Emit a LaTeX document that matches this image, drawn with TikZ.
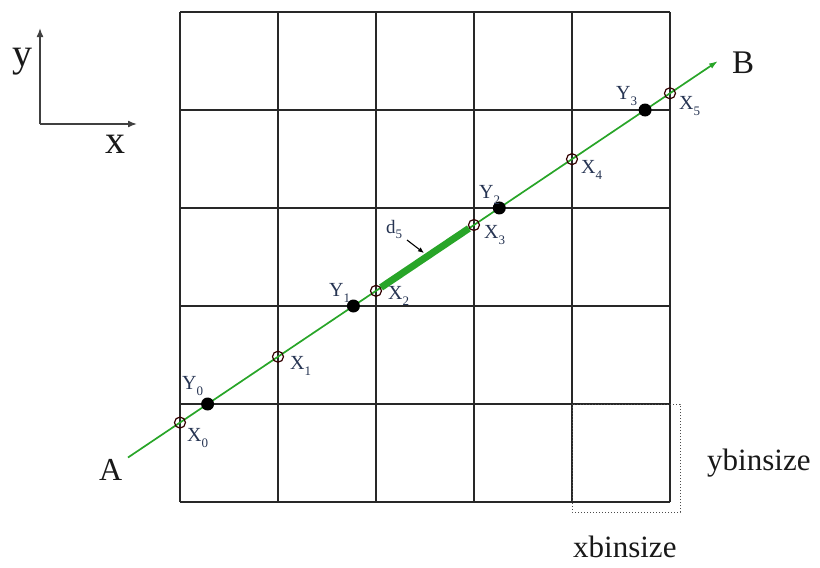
\documentclass[tikz,border=0pt]{standalone}
\usepackage{fontspec}
\setmainfont{Liberation Serif}
\usetikzlibrary{arrows.meta}
\definecolor{lblue}{RGB}{38,52,82}
\definecolor{lgreen}{RGB}{40,165,40}
\definecolor{gridc}{RGB}{40,40,40}
\newcommand{\lab}[2]{#1\raisebox{-0.3em}{\fontsize{13}{13}\selectfont #2}}
\begin{document}
\begin{tikzpicture}[x=1pt,y=-1pt,
  gridline/.style={gridc, line width=1.2},
  opendot/.style={circle, draw=black!80!red, line width=1.2, minimum size=11, inner sep=0},
  fulldot/.style={circle, fill=black, minimum size=13, inner sep=0},
  ptlabel/.style={anchor=base west, inner sep=0, text=lblue, font=\fontsize{20}{20}\selectfont},
  biglabel/.style={anchor=base west, inner sep=0, text=black!90, font=\fontsize{32}{32}\selectfont},
  axis/.style={black!75, line width=1.5, -{Latex[length=9pt,width=7pt]}}]
\useasboundingbox (0,0) rectangle (820,568);
% grid
\foreach \i in {0,...,5} {
  \draw[gridline] ({180+98*\i},12) -- ({180+98*\i},502);
  \draw[gridline] (180,{12+98*\i}) -- (670,{12+98*\i});
}
% bin size dotted box
\draw[black!70, dotted, line width=1] (572,404) rectangle (680,512);
% axes
\coordinate (o) at (40,124);
\coordinate (ay) at (40,28);
\coordinate (ax) at (137,124);
\draw[axis] (o) -- (ay);
\draw[axis] (o) -- (ax);
\node[biglabel, font=\fontsize{40}{40}\selectfont] (ylab) at (12,66) {y};
\node[biglabel, font=\fontsize{40}{40}\selectfont] (xlab) at (105,153) {x};
% main line
\coordinate (A0) at (128,457.5);
\coordinate (B0) at (718,61);
\draw[lgreen, line width=1.7, -{Latex[length=9pt,width=6pt]}] (A0) -- (B0);
\path (A0) -- (B0)
  node[opendot, pos=0.0881] (x0) {}
  node[opendot, pos=0.2542] (x1) {}
  node[opendot, pos=0.4203] (x2) {}
  node[opendot, pos=0.5864] (x3) {}
  node[opendot, pos=0.7525] (x4) {}
  node[opendot, pos=0.9186] (x5) {}
  node[fulldot, pos=0.1349] (y0) {}
  node[fulldot, pos=0.3821] (y1) {}
  node[fulldot, pos=0.6293] (y2) {}
  node[fulldot, pos=0.8764] (y3) {};
\draw[lgreen, line width=7] (x2) -- (x3);
% labels
\node[ptlabel] (lx0) at (187,441) {\lab{X}{0}};
\node[ptlabel] (lx1) at (290,369) {\lab{X}{1}};
\node[ptlabel] (lx2) at (388,299) {\lab{X}{2}};
\node[ptlabel] (lx3) at (484,238) {\lab{X}{3}};
\node[ptlabel] (lx4) at (581,173) {\lab{X}{4}};
\node[ptlabel] (lx5) at (679,109) {\lab{X}{5}};
\node[ptlabel] (ly0) at (182,389) {\lab{Y}{0}};
\node[ptlabel] (ly1) at (329,296) {\lab{Y}{1}};
\node[ptlabel] (ly2) at (479,198) {\lab{Y}{2}};
\node[ptlabel] (ly3) at (616,99) {\lab{Y}{3}};
\node[ptlabel, font=\fontsize{19}{19}\selectfont] (ld5) at (386,233) {\lab{d}{5}};
\coordinate (d5a) at (407,240);
\coordinate (d5b) at (424,253);
\draw[black, line width=1.1, -{Latex[length=6pt,width=5pt]}] (d5a) -- (d5b);
\node[biglabel] (lA) at (99,480) {A};
\node[biglabel, font=\fontsize{33}{33}\selectfont] (lB) at (732,73) {B};
\node[biglabel, font=\fontsize{31}{31}\selectfont] (yb) at (707,470) {ybinsize};
\node[biglabel, font=\fontsize{31}{31}\selectfont] (xb) at (573,557) {xbinsize};
\end{tikzpicture}
\end{document}
